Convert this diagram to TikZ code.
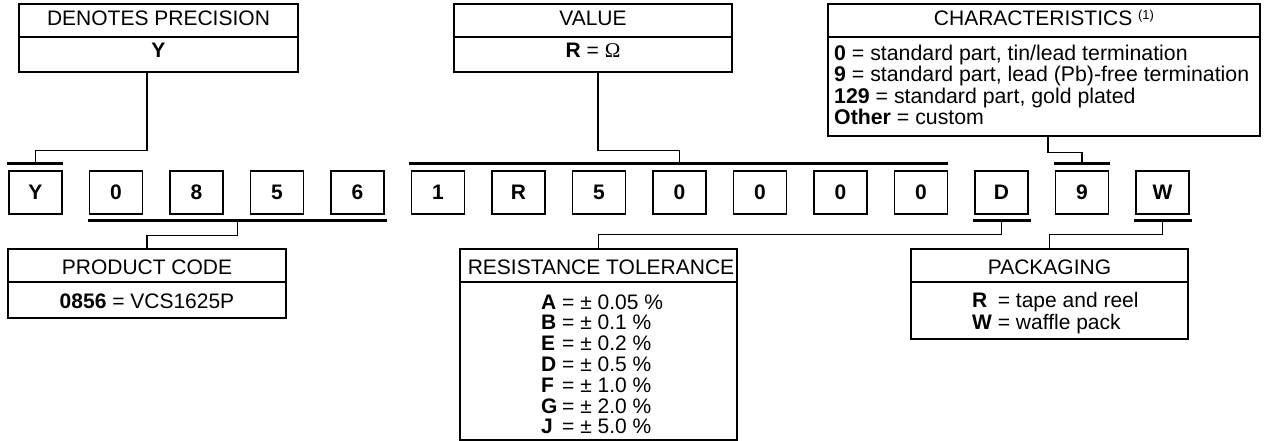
\documentclass[tikz,border=0pt]{standalone}
\usepackage{fontspec}
\setmainfont{Liberation Sans}
\newfontfamily\omegafont{Liberation Serif}
\usetikzlibrary{calc}
\newcommand\tsize{\fontsize{21}{21}\selectfont}
\newcommand\charfont{\fontsize{21.3}{21.6}\selectfont\setlength{\lineskiplimit}{-50pt}\setlength{\lineskip}{0pt}}
\newcommand\lettbox[1]{\makebox[0.722em][l]{\bfseries #1}}
\begin{document}
\begin{tikzpicture}[x=1pt,y=-1pt,
  box/.style={draw, line width=1.4pt, inner sep=0pt},
  codebox/.style={box, minimum width=53pt, minimum height=43pt, font=\tsize\bfseries},
  bar/.style={line width=2.6pt},
  conn/.style={line width=1.4pt},
  txt/.style={inner sep=0pt, font=\tsize},
]
\useasboundingbox (0,0) rectangle (1270,441);

% ---------- header boxes
\node[box, minimum width=279pt, minimum height=33pt] (dpT) at (158.5,20.5) {};
\node[box, minimum width=279pt, minimum height=35pt] (dpB) at (158.5,54.5) {};
\node[box, minimum width=278pt, minimum height=33pt] (vT) at (593,20.5) {};
\node[box, minimum width=278pt, minimum height=35pt] (vB) at (593,54.5) {};
\node[box, minimum width=432pt, minimum height=33pt] (cT) at (1044,20.5) {};
\node[box, minimum width=432pt, minimum height=99pt] (cB) at (1044,86.5) {};

% ---------- footer boxes
\node[box, minimum width=278pt, minimum height=33pt] (pcT) at (147,265.5) {};
\node[box, minimum width=278pt, minimum height=36pt] (pcB) at (147,300) {};
\node[box, minimum width=277pt, minimum height=33pt] (rtT) at (598.5,265.5) {};
\node[box, minimum width=277pt, minimum height=158pt] (rtB) at (598.5,361) {};
\node[box, minimum width=277pt, minimum height=33pt] (pkT) at (1049.5,265.5) {};
\node[box, minimum width=277pt, minimum height=57pt] (pkB) at (1049.5,310.5) {};

% ---------- header texts
\node[txt, anchor=base] (dpTt) at (158.5,26) {DENOTES PRECISION};
\node[txt, anchor=base] (dpBt) at (158.5,57.5) {\bfseries Y};
\node[txt, anchor=base] (vTt) at (593,26) {VALUE};
\node[txt, anchor=base] (vBt) at (593,58) {\textbf{R} = {\omegafont Ω}};
\node[txt, anchor=base] (cTt) at (1044,26) {CHARACTERISTICS \raisebox{6pt}{\fontsize{13}{13}\selectfont (1)}};
\node[txt, anchor=north west, align=left, font=\charfont] (cList) at (834,44.5)
  {\textbf{0} = standard part, tin/lead termination\\
   \textbf{9} = standard part, lead (Pb)-free termination\\
   \textbf{129} = standard part, gold plated\\
   \textbf{Other} = custom};

% ---------- footer texts
\node[txt, anchor=base] (pcTt) at (147,274.3) {PRODUCT CODE};
\node[txt, anchor=base] (pcBt) at (147,308.3) {\textbf{0856} = VCS1625P};
\node[txt, anchor=base] (rtTt) at (601,274.3) {RESISTANCE TOLERANCE};
\foreach \L/\V [count=\k from 0] in {A/0.05,B/0.1,E/0.2,D/0.5,F/1.0,G/2.0,J/5.0}{
  \node[txt, anchor=base west] (rt\L) at (541,{309+20.8*\k})
    {\ifx G\L\textbf{G}=\else\lettbox{\L} =\fi{} ± \V{} \%};
}
\node[txt, anchor=base] (pkTt) at (1049.5,274.3) {PACKAGING};
\node[txt, anchor=base west] (pkR) at (972,307.5) {\makebox[0.944em][l]{\bfseries R} = tape and reel};
\node[txt, anchor=base west] (pkW) at (972,329.3) {\makebox[0.944em][l]{\bfseries W} = waffle pack};

% ---------- code boxes
\foreach \ch [count=\i from 0] in {Y,0,8,5,6,1,R,5,0,0,0,0,D,9,W}
  \node[codebox] (c\i) at ({35.5+80.5*\i},192.5) {\ch};

% ---------- bars above
\draw[bar] ([xshift=-1pt,yshift=7pt]c0.north west) -- ([yshift=7pt]c0.north east);
\coordinate (ybar) at ([yshift=7pt]c0.north);
\draw[bar] ([xshift=-2pt,yshift=7pt]c5.north west) -- ([yshift=7pt]c11.north east);
\coordinate (vbar) at ($(c5.north west)!0.5!(c11.north east)+(0,-7)$);
\draw[bar] ([xshift=-0.5pt,yshift=7pt]c13.north west) -- ([xshift=0.5pt,yshift=7pt]c13.north east);
\coordinate (cbar) at ([yshift=7pt]c13.north);

% ---------- bars below
\draw[bar] ([xshift=-0.5pt,yshift=-6pt]c1.south west) -- ([xshift=2pt,yshift=-6pt]c4.south east);
\coordinate (pbar) at ($(c1.south west)!0.5!(c4.south east)+(1,6)$);
\draw[bar] ([xshift=-1pt,yshift=-6pt]c12.south west) -- ([xshift=2pt,yshift=-6pt]c12.south east);
\coordinate (dbar) at ([yshift=-6pt]c12.south);
\draw[bar] ([xshift=-1pt,yshift=-6pt]c14.south west) -- ([xshift=2pt,yshift=-6pt]c14.south east);
\coordinate (wbar) at ([yshift=-6pt]c14.south);

% ---------- connectors
\draw[conn] ([xshift=-11.5pt]dpB.south) -- ++(0,78) -| (ybar);
\draw[conn] ([xshift=5pt]vB.south) -- ++(0,78) -| (vbar);
\draw[conn] ([xshift=4pt]cB.south) -- ++(0,16) -| (cbar);
\draw[conn] (pbar) -- ++(0,15) -| (pcT.north);
\draw[conn] (dbar) -- ++(0,14) -| (rtT.north);
\draw[conn] (wbar) -- ++(0,14) -| (pkT.north);
\end{tikzpicture}
\end{document}
